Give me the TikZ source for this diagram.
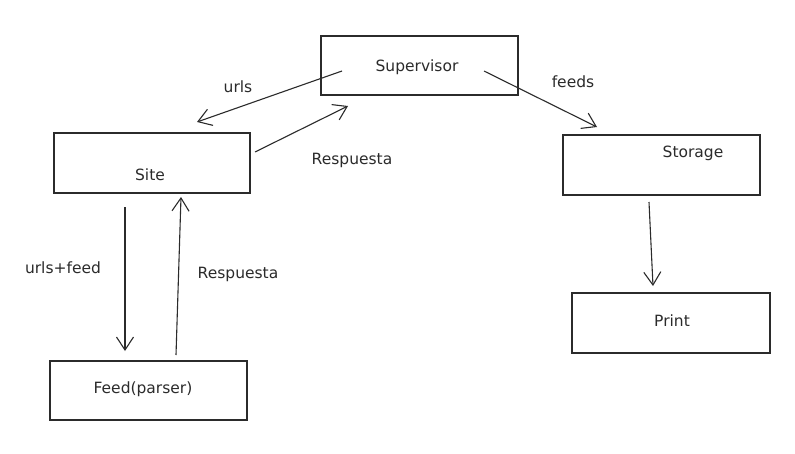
\documentclass[tikz,border=0pt]{standalone}
\usepackage{fontspec}
\setmainfont{DejaVu Sans}
\usetikzlibrary{arrows.meta}
\definecolor{ink}{HTML}{2B2B2B}
\tikzset{
  box/.style={draw=ink, line width=1.1pt, minimum width=#1},
  lbl/.style={text=ink, font=\fontsize{15.5}{17}\selectfont, inner sep=0pt},
  flow/.style={draw=ink, line width=1.1pt, -{Straight Barb[length=13pt,width=17pt,line width=1.1pt]}},
}
\begin{document}
\begin{tikzpicture}[x=1pt,y=-1pt]
  \fill[white] (0,0) rectangle (795,453);
  \useasboundingbox (0,0) rectangle (795,453);

  % boxes
  \draw[box=0] (321,36) rectangle (518,95);
  \draw[box=0] (54,133) rectangle (250,193);
  \draw[box=0] (563,135) rectangle (760,195);
  \draw[box=0] (572,293) rectangle (770,353);
  \draw[box=0] (50,361) rectangle (247,420);

  % box titles
  \node[lbl] (supervisor) at (417,67) {Supervisor};
  \node[lbl] (site) at (150,175) {Site};
  \node[lbl] (storage) at (693,153) {Storage};
  \node[lbl] (print) at (672,321) {Print};
  \node[lbl] (feed) at (143,389) {Feed(parser)};

  % arrow end points
  \coordinate (supOut) at (342,71);
  \coordinate (siteIn) at (197,122);
  \coordinate (siteOut) at (255,152);
  \coordinate (supIn) at (348,106);
  \coordinate (supOutR) at (484,71);
  \coordinate (storIn) at (597,127);
  \coordinate (siteDown) at (125,207);
  \coordinate (feedIn) at (125,351);
  \coordinate (feedOut) at (176,355);
  \coordinate (siteUp) at (181,197);
  \coordinate (storDown) at (649,202);
  \coordinate (printIn) at (653,286);

  % connectors
  \draw[flow] (supOut) -- (siteIn);
  \draw[flow] (siteOut) -- (supIn);
  \draw[flow] (supOutR) -- (storIn);
  \draw[flow] (siteDown) -- (feedIn);
  \draw[flow] (feedOut) -- (siteUp);
  \draw[flow] (storDown) -- (printIn);

  % connector labels
  \node[lbl] (lUrls) at (238,87) {urls};
  \node[lbl] (lResp1) at (352,160) {Respuesta};
  \node[lbl] (lFeeds) at (573,82) {feeds};
  \node[lbl] (lUrlsFeed) at (63,268) {urls+feed};
  \node[lbl] (lResp2) at (238,274) {Respuesta};
\end{tikzpicture}
\end{document}
